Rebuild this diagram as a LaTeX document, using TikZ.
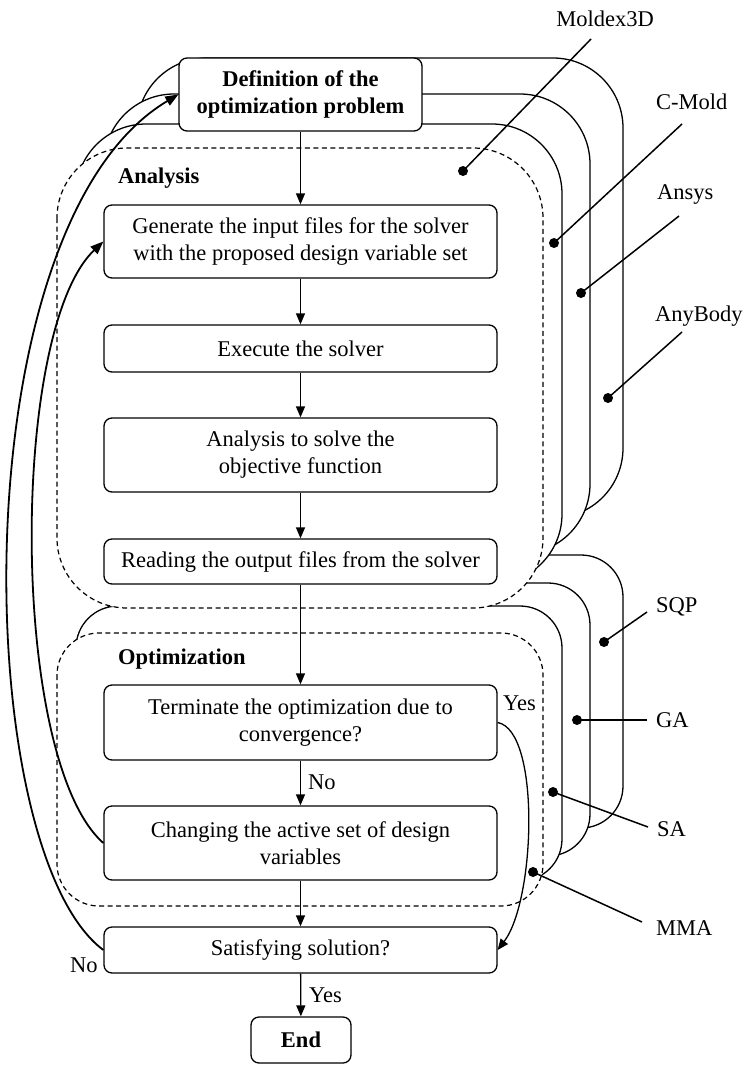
\documentclass[tikz,border=0pt]{standalone}
\usepackage{fontspec}
\setmainfont{Liberation Serif}
\usetikzlibrary{arrows.meta}
\newcommand{\flowfont}{\fontsize{22.5}{27}\selectfont}
\begin{document}
\begin{tikzpicture}[x=1pt,y=-1pt]
                  \tikzstyle{every node}+=[inner sep=0pt,font=\flowfont]
                  \tikzstyle{stepbox}=[draw,line width=1.3pt,rounded corners=8pt,fill=white,align=center,minimum width=393pt]
                  \tikzstyle{stack}=[draw,line width=1.3pt,fill=white]
                  \tikzstyle{frontdash}=[draw,line width=1.2pt,dash pattern=on 5pt off 3.5pt,fill=white]
                  \tikzstyle{flowarrow}=[line width=1.3pt,-{Triangle[length=11pt,width=9pt]}]
                  \tikzstyle{loopback}=[line width=1.8pt,-{Triangle[length=13pt,width=10pt]}]
                  \tikzstyle{leadline}=[line width=1.5pt]
                  \useasboundingbox (0,0) rectangle (743,1066);
                  % optimization stack
                  \draw [stack,rounded corners=42pt] (137,555) rectangle (623,828);
                  \draw [stack,rounded corners=42pt] (104,583) rectangle (590,856);
                  \draw [stack,rounded corners=42pt] (76,606) rectangle (562,881);
                  \draw [frontdash,rounded corners=42pt] (57,633) rectangle (543,906);
                  % analysis stack
                  \draw [stack,rounded corners=70pt] (137,58) rectangle (623,518);
                  \draw [stack,rounded corners=70pt] (104,94) rectangle (590,554);
                  \draw [stack,rounded corners=70pt] (76,124) rectangle (562,584);
                  \draw [frontdash,rounded corners=70pt] (57,148) rectangle (543,608);
                  % boxes
                  \node [stepbox,font=\flowfont\bfseries,minimum width=243pt,minimum height=73pt] (def) at (300.5,94.5) {Definition of the\\optimization problem};
                  \node [stepbox,minimum height=73pt] (gen) at (300.5,241.5) {Generate the input files for the solver\\with the proposed design variable set};
                  \node [stepbox,minimum height=47pt] (exe) at (300.5,348.5) {Execute the solver};
                  \node [stepbox,minimum height=74pt] (obj) at (300.5,455) {Analysis to solve the\\objective function};
                  \node [stepbox,minimum height=45pt] (rd) at (300.5,561.5) {Reading the output files from the solver};
                  \node [stepbox,minimum height=75pt] (term) at (300.5,722.5) {Terminate the optimization due to\\convergence?};
                  \node [stepbox,minimum height=74pt] (chg) at (300.5,843) {Changing the active set of design\\variables};
                  \node [stepbox,minimum height=46pt] (sat) at (300.5,950) {Satisfying solution?};
                  \node [stepbox,font=\flowfont\bfseries,minimum width=100pt,minimum height=46pt] (fin) at (301,1040) {End};
                  \node [anchor=base west,font=\flowfont\bfseries] (anl) at (118,183) {Analysis};
                  \node [anchor=base west,font=\flowfont\bfseries] (opl) at (118,664) {Optimization};
                  % flow
                  \draw [flowarrow] (def) -- (gen);
                  \draw [flowarrow] (gen) -- (exe);
                  \draw [flowarrow] (exe) -- (obj);
                  \draw [flowarrow] (obj) -- (rd);
                  \draw [flowarrow] (rd) -- (term);
                  \draw [flowarrow] (term) -- (chg);
                  \node [anchor=base west] (no1) at (308,789) {No};
                  \draw [flowarrow] (chg) -- (sat);
                  \draw [flowarrow] (sat) -- (fin);
                  \node [anchor=base west] (yes2) at (309,1002) {Yes};
                  \draw [flowarrow] (term.east) .. controls +(43,8) and +(38,-50) .. (sat.east);
                  \node [anchor=base west] (yes1) at (503,710) {Yes};
                  \draw [loopback] (chg.west) .. controls +(-94,-83) and +(-94,89) .. (gen.west);
                  \draw [loopback] (sat.west) .. controls +(-134,-100) and +(-219,130) .. (def.west);
                  \node [anchor=base west] (no2) at (70,972) {No};
                  % tools and solvers
                  \node [anchor=base] (moldex) at (605,26) {Moldex3D};
                  \node [anchor=base west] (cmold) at (656,109) {C-Mold};
                  \node [anchor=base west] (ansys) at (657,199) {Ansys};
                  \node [anchor=base west] (anybody) at (655,321) {AnyBody};
                  \node [anchor=base west] (sqp) at (656,612) {SQP};
                  \node [anchor=base west] (ga) at (656,727) {GA};
                  \node [anchor=base west] (sa) at (657,836) {SA};
                  \node [anchor=base west] (mma) at (656,935) {MMA};
                  \coordinate (moldexA) at (591,39);   \coordinate (moldexB) at (463,171);
                  \coordinate (cmoldA) at (682,124);   \coordinate (cmoldB) at (554,243);
                  \coordinate (ansysA) at (679,216);   \coordinate (ansysB) at (581,293);
                  \coordinate (anybodyA) at (682,332); \coordinate (anybodyB) at (608,398);
                  \coordinate (sqpA) at (647,612);     \coordinate (sqpB) at (604,642);
                  \coordinate (gaA) at (647,720);      \coordinate (gaB) at (577,720);
                  \coordinate (saA) at (648,827);      \coordinate (saB) at (553,792);
                  \coordinate (mmaA) at (642,922);     \coordinate (mmaB) at (533,872);
                  \foreach \tool in {moldex,cmold,ansys,anybody,sqp,ga,sa,mma}
                  {
                    \draw [leadline] (\tool A) -- (\tool B);
                    \fill (\tool B) circle (5pt);
                  }
              \end{tikzpicture}
\end{document}
